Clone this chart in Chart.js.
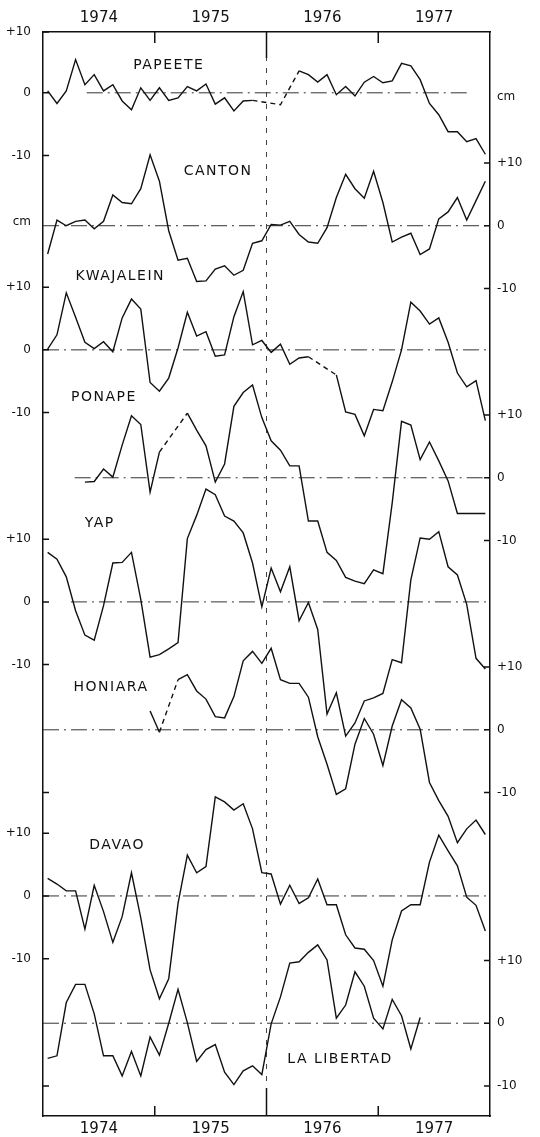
<!DOCTYPE html>
<html>
<head>
<meta charset="utf-8">
<title>Sea level anomalies 1974-1977</title>
<script src="https://cdn.jsdelivr.net/npm/chart.js@4.4.1/dist/chart.umd.min.js"></script>
<style>
  html, body { margin: 0; padding: 0; background: #fff; }
  canvas { display: block; }
</style>
</head>
<body>
<canvas id="chart" width="540" height="1137"></canvas>
<script>
// monthly sea level anomalies in cm, Jan 1974 .. Dec 1977 (null = no data)
const years = ['1974', '1975', '1976', '1977'];
const stations = ['PAPEETE', 'CANTON', 'KWAJALEIN', 'PONAPE', 'YAP', 'HONIARA', 'DAVAO', 'LA LIBERTAD'];

const papeete = [0.3, -1.7, 0.3, 5.3, 1.3, 2.9, 0.3, 1.3, -1.3, -2.7, 0.8, -1.2,
  0.8, -1.2, -0.8, 1.0, 0.3, 1.4, -1.8, -0.8, -2.9, -1.3, -1.2, null,
  null, -1.9, null, 3.5, 2.9, 1.7, 2.9, -0.3, 1.0, -0.5, 1.7, 2.6,
  1.6, 1.9, 4.7, 4.3, 2.1, -1.7, -3.5, -6.2, -6.2, -7.8, -7.3, -9.8];

const canton = [-4.5, 0.9, 0.0, 0.7, 0.9, -0.5, 0.7, 4.9, 3.7, 3.5, 5.9, 11.3,
  7.1, -0.8, -5.5, -5.2, -8.9, -8.8, -6.9, -6.4, -7.9, -7.1, -2.8, -2.4,
  0.2, 0.1, 0.7, -1.4, -2.6, -2.8, -0.3, 4.5, 8.2, 5.9, 4.4, 8.7,
  3.7, -2.6, -1.8, -1.2, -4.6, -3.7, 1.1, 2.2, 4.5, 0.9, 4.0, 7.1];

const kwajalein = [0.1, 2.4, 9.1, 5.2, 1.2, 0.2, 1.3, -0.3, 5.1, 8.1, 6.5, -5.2,
  -6.6, -4.5, 0.3, 6.0, 2.2, 2.9, -1.0, -0.8, 5.3, 9.3, 0.8, 1.5,
  -0.4, 0.9, -2.3, -1.3, -1.1, null, null, -4.0, -9.9, -10.3, -13.7, -9.5,
  -9.7, -5.1, 0.0, 7.6, 6.2, 4.1, 5.1, 1.2, -3.7, -5.9, -4.9, -11.3];

const ponape = [null, null, null, null, -0.7, -0.6, 1.4, 0.1, 5.2, 9.9, 8.5, -2.3,
  4.1, null, null, 10.3, 7.6, 5.1, -0.7, 2.2, 11.4, 13.6, 14.8, 9.6,
  5.9, 4.4, 1.9, 1.9, -6.9, -6.9, -11.9, -13.2, -15.9, -16.5, -16.9, -14.7,
  -15.3, -4.0, 9.0, 8.4, 2.9, 5.7, 2.7, -0.5, -5.7, -5.7, -5.7, -5.7];

const yap = [7.9, 6.8, 4.0, -1.4, -5.3, -6.1, -0.6, 6.2, 6.3, 7.9, 0.4, -8.8,
  -8.4, -7.5, -6.5, 10.1, 13.8, 18.0, 17.1, 13.7, 12.9, 11.0, 6.2, -0.8,
  5.4, 1.6, 5.6, -3.0, -0.1, -4.4, -17.9, -14.5, -21.4, -19.3, -15.8, -15.3,
  -14.6, -9.2, -9.7, 3.5, 10.2, 10.0, 11.2, 5.6, 4.3, -0.4, -9.0, -10.7];

const honiara = [null, null, null, null, null, null, null, null, null, null, null, 3.0,
  -0.4, null, 8.0, 8.8, 6.2, 4.9, 2.1, 1.9, 5.3, 11.0, 12.5, 10.6,
  13.0, 8.0, 7.4, 7.4, 5.2, -1.1, -5.5, -10.3, -9.4, -2.3, 1.8, -0.7,
  -5.7, 0.6, 4.8, 3.5, 0.1, -8.4, -11.3, -13.8, -18.0, -15.8, -14.4, -16.7];

const davao = [2.8, 1.9, 0.8, 0.8, -5.3, 1.7, -2.5, -7.4, -3.3, 3.7, -3.5, -11.8,
  -16.4, -13.2, -1.2, 6.5, 3.7, 4.7, 15.8, 15.0, 13.7, 14.7, 10.7, 3.7,
  3.5, -1.3, 1.7, -1.2, -0.3, 2.7, -1.4, -1.4, -6.2, -8.3, -8.5, -10.3,
  -14.4, -7.0, -2.4, -1.4, -1.4, 5.4, 9.7, 7.2, 4.8, -0.2, -1.5, -5.6];

const laLibertad = [-5.6, -5.2, 3.3, 6.2, 6.2, 1.5, -5.2, -5.2, -8.4, -4.5, -8.4, -2.2,
  -5.1, 0.0, 5.4, 0.1, -6.1, -4.2, -3.4, -7.8, -9.8, -7.6, -6.8, -8.2,
  -0.1, 4.2, 9.6, 9.8, 11.3, 12.5, 10.1, 0.8, 2.9, 8.2, 5.9, 0.8,
  -0.9, 3.8, 1.2, -4.1, 0.9, null, null, null, null, null, null, null];

const series = [papeete, canton, kwajalein, ponape, yap, honiara, davao, laLibertad];

// axis labels
const leftTickValues = [0, -9.7, -19.7, -30.3, -40.7, -50.7, -60.7, -80.9, -90.9, -100.9, -121.3, -127.8, -137.8, -147.8, -168.1];
const leftTickLabels = ['+10', '0', '-10', 'cm', '+10', '0', '-10', '+10', '0', '-10', '', '+10', '0', '-10', ''];
const rightTickValues = [-10.4, -20.9, -30.9, -40.9, -61.1, -71.1, -81.1, -101.3, -111.3, -121.3, -148.1, -158.1, -168.1];
const rightTickLabels = ['cm', '+10', '0', '-10', '+10', '0', '-10', '+10', '0', '-10', '+10', '0', '-10'];

// layout: where each station's zero line sits on the stacked scale, and where names go
const baselines = [-9.7, -30.9, -50.7, -71.1, -90.9, -111.3, -137.8, -158.1];
const zeroSpans = [[4.7, 45.8], [0, 48], [0, 48], [3.4, 48], [3, 48], [0, 48], [0, 48], [0, 48]];
const namePos = [[13.5, -5.4], [18.8, -22.3], [8.3, -38.9], [6.55, -58.2], [6.1, -78.3], [7.3, -104.5], [7.95, -129.8], [31.9, -163.9]];
const yearMarks = [[12, 11, 10], [24, 26, 28], [36, 11, 10]];
const Y_TOP = 0, Y_BOTTOM = -172.9;

const FONT = '"DejaVu Sans", sans-serif';
const INK = '#111';

const skipped = (ctx, value) => (ctx.p0.skip || ctx.p1.skip) ? value : undefined;

const datasets = [];
series.forEach((vals, s) => {
  datasets.push({
    label: stations[s],
    data: vals.map((v, i) => ({ x: i + 0.5, y: v === null ? null : baselines[s] + v })),
    borderColor: INK,
    borderWidth: 1.4,
    pointRadius: 0,
    spanGaps: true,
    tension: 0,
    segment: { borderDash: ctx => skipped(ctx, [5, 4]) }
  });
});
baselines.forEach((b, s) => {
  datasets.push({
    label: stations[s] + ' 0',
    data: [{ x: zeroSpans[s][0], y: b }, { x: zeroSpans[s][1], y: b }],
    borderColor: '#333',
    borderWidth: 1,
    borderDash: [16, 5, 2, 5],
    pointRadius: 0
  });
});
datasets.push({
  label: '1976',
  data: [{ x: 24, y: Y_TOP }, { x: 24, y: Y_BOTTOM }],
  borderColor: '#444',
  borderWidth: 1,
  borderDash: [5, 7],
  pointRadius: 0
});

const frameMarks = {
  id: 'frameMarks',
  afterDraw(chart) {
    const { ctx, chartArea: a, scales } = chart;
    ctx.save();
    ctx.strokeStyle = INK;
    ctx.lineWidth = 1.5;
    ctx.beginPath();
    [['y', a.left, 1], ['y2', a.right, -1]].forEach(([id, x0, dir]) => {
      const s = scales[id];
      s.ticks.forEach(t => {
        if (t.label === 'cm') return;
        const py = s.getPixelForValue(t.value);
        ctx.moveTo(x0, py);
        ctx.lineTo(x0 + dir * 6, py);
      });
    });
    yearMarks.forEach(([m, up, down]) => {
      const px = scales.x.getPixelForValue(m);
      ctx.moveTo(px, a.top);
      ctx.lineTo(px, a.top + up);
      ctx.moveTo(px, a.bottom);
      ctx.lineTo(px, a.bottom - down);
    });
    ctx.stroke();

    ctx.fillStyle = INK;
    ctx.font = '14px ' + FONT;
    ctx.letterSpacing = '1.5px';
    ctx.textAlign = 'center';
    ctx.textBaseline = 'middle';
    stations.forEach((name, s) => {
      const [mx, my] = namePos[s];
      ctx.fillText(name, scales.x.getPixelForValue(mx), scales.y.getPixelForValue(my));
    });
    ctx.restore();
  }
};

const yearAxis = (position, size, pad) => ({
  type: 'linear',
  position,
  min: 0,
  max: 48,
  afterBuildTicks: axis => { axis.ticks = years.map((y, i) => ({ value: i * 12 + 6 })); },
  afterFit: scale => { scale.height = size; },
  grid: { drawOnChartArea: false, drawTicks: false },
  border: { color: INK, width: 1.5 },
  ticks: {
    autoSkip: false,
    maxRotation: 0,
    padding: pad,
    color: INK,
    font: { family: FONT, size: 15 },
    callback: (v, i) => years[i]
  }
});

const cmAxis = (position, size, pad, values, labels) => ({
  type: 'linear',
  position,
  min: Y_BOTTOM,
  max: Y_TOP,
  afterBuildTicks: axis => { axis.ticks = values.map(v => ({ value: v })); },
  afterFit: scale => { scale.width = size; },
  grid: { drawOnChartArea: false, drawTicks: false },
  border: { color: INK, width: 1.5 },
  ticks: {
    autoSkip: false,
    padding: pad,
    color: INK,
    font: { family: FONT, size: 12 },
    callback: (v, i) => labels[i]
  }
});

new Chart(document.getElementById('chart'), {
  type: 'line',
  data: { datasets },
  options: {
    responsive: false,
    animation: false,
    events: [],
    layout: { padding: 0 },
    plugins: { legend: { display: false }, tooltip: { enabled: false } },
    scales: {
      x: yearAxis('bottom', 21, 4),
      x2: yearAxis('top', 32, 5),
      y: cmAxis('left', 43, 12, leftTickValues, leftTickLabels),
      y2: cmAxis('right', 50, 7, rightTickValues, rightTickLabels)
    }
  },
  plugins: [frameMarks]
});
</script>
</body>
</html>
